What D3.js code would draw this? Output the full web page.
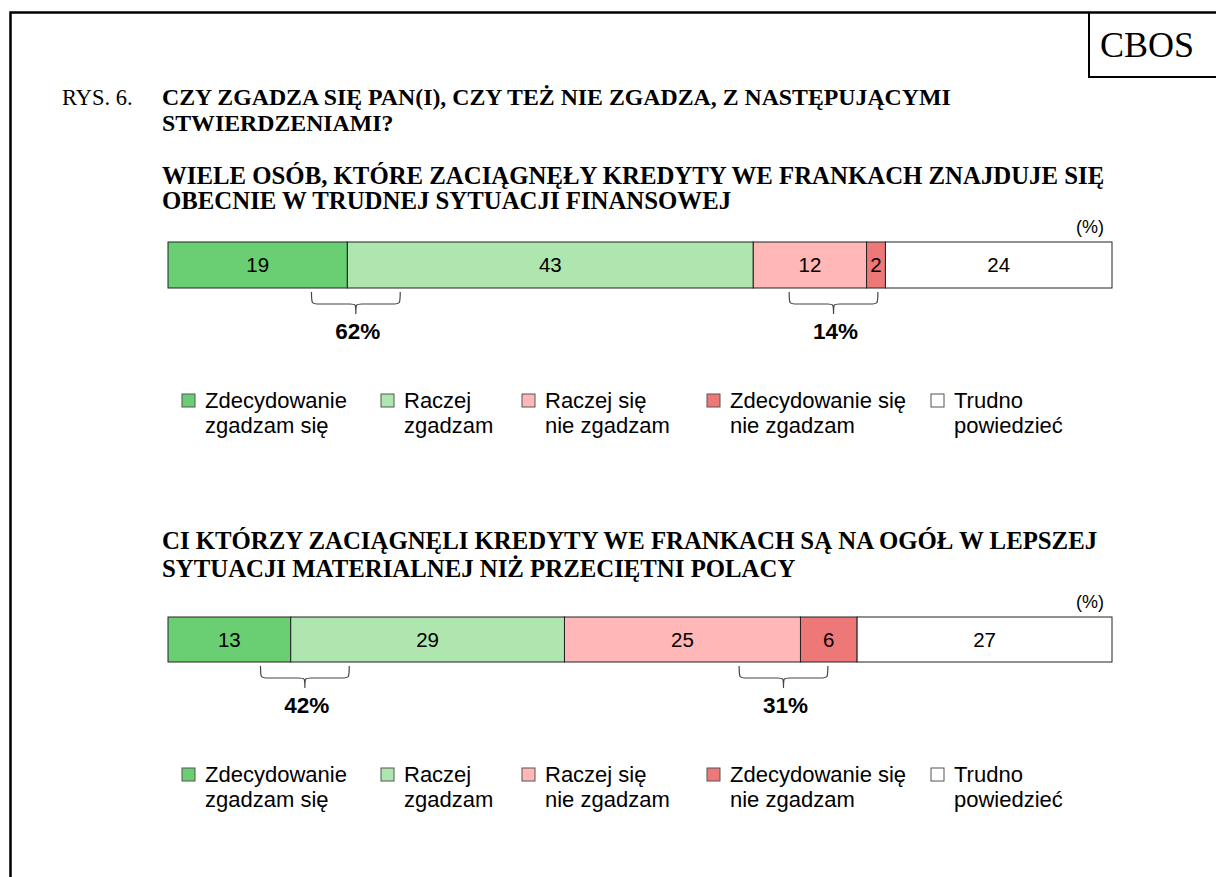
<!DOCTYPE html>
<html>
<head>
<meta charset="utf-8">
<script src="https://cdn.jsdelivr.net/npm/d3@7"></script>
<style>
  body { margin: 0; background: #fff; }
  svg { display: block; }
</style>
</head>
<body>
<div id="chart"></div>
<script>
// answer categories (legend order = stack order)
const categories = [
    ['Zdecydowanie', 'zgadzam się'],
    ['Raczej', 'zgadzam'],
    ['Raczej się', 'nie zgadzam'],
    ['Zdecydowanie się', 'nie zgadzam'],
    ['Trudno', 'powiedzieć']
];
const colors = ['#69cf72', '#afe6af', '#ffb7b7', '#ee7878', '#ffffff'];

// statements
const statements = [
    ['WIELE OSÓB, KTÓRE ZACIĄGNĘŁY KREDYTY WE FRANKACH ZNAJDUJE SIĘ', 'OBECNIE W TRUDNEJ SYTUACJI FINANSOWEJ'],
    ['CI KTÓRZY ZACIĄGNĘLI KREDYTY WE FRANKACH SĄ NA OGÓŁ W LEPSZEJ', 'SYTUACJI MATERIALNEJ NIŻ PRZECIĘTNI POLACY']
];

// values (%)
const values1 = [19, 43, 12, 2, 24];
const values2 = [13, 29, 25, 6, 27];

// summary labels under braces: [agree total, disagree total]
const totals1 = [62, 14];
const totals2 = [42, 31];
// brace centres on the percent axis
const braceAt1 = [19.9, 70.5];
const braceAt2 = [14.5, 65.2];

const W = 1216, H = 877;
const sans = '"Liberation Sans", Arial, sans-serif';
const serif = '"Liberation Serif", "Times New Roman", serif';

const svg = d3.select('#chart').append('svg')
    .attr('width', W)
    .attr('height', H);

// outer frame (runs off the right and bottom edge)
svg.append('path')
    .attr('d', `M10.5,${H + 5} V12.5 H${W + 5}`)
    .attr('fill', 'none')
    .attr('stroke', '#000')
    .attr('stroke-width', 2.5);

// CBOS box
svg.append('path')
    .attr('d', `M1089,12.5 V77 H${W + 5}`)
    .attr('fill', 'none')
    .attr('stroke', '#000')
    .attr('stroke-width', 2);
svg.append('text')
    .attr('x', 1147)
    .attr('y', 57)
    .attr('text-anchor', 'middle')
    .style('font-family', serif)
    .style('font-size', '36px')
    .text('CBOS');

// figure title
svg.append('text')
    .attr('x', 62)
    .attr('y', 105)
    .style('font-family', serif)
    .style('font-size', '22.5px')
    .text('RYS. 6.');

const title = svg.append('text')
    .style('font-family', serif)
    .style('font-size', '23.8px')
    .style('font-weight', 'bold');
['CZY ZGADZA SIĘ PAN(I), CZY TEŻ NIE ZGADZA, Z NASTĘPUJĄCYMI', 'STWIERDZENIAMI?']
    .forEach((t, i) => {
        title.append('tspan').attr('x', 162).attr('y', 105 + i * 26).text(t);
    });

const x = d3.scaleLinear()
    .domain([0, 100])
    .range([168, 1112]);

const panels = [
    { lines: statements[0], values: values1, totals: totals1, braces: braceAt1, subY: 184, subGap: 25, barY: 242, barH: 46, legY: 408 },
    { lines: statements[1], values: values2, totals: totals2, braces: braceAt2, subY: 549, subGap: 28, barY: 617, barH: 45, legY: 782 }
];

panels.forEach(p => {
    const g = svg.append('g');

    // statement
    const sub = g.append('text')
        .style('font-family', serif)
        .style('font-size', '24.8px')
        .style('font-weight', 'bold');
    p.lines.forEach((t, i) => {
        sub.append('tspan').attr('x', 162).attr('y', p.subY + i * p.subGap).text(t);
    });

    g.append('text')
        .attr('x', 1104)
        .attr('y', p.barY - 9)
        .attr('text-anchor', 'end')
        .style('font-family', sans)
        .style('font-size', '18px')
        .text('(%)');

    // stacked bar
    const stacked = d3.cumsum(p.values);
    const segs = p.values.map((v, i) => ({ v, i, x0: stacked[i] - v, x1: stacked[i] }));

    g.selectAll('rect.seg')
        .data(segs)
        .join('rect')
        .attr('class', 'seg')
        .attr('x', d => x(d.x0))
        .attr('y', p.barY)
        .attr('width', d => x(d.x1) - x(d.x0))
        .attr('height', p.barH)
        .attr('fill', d => colors[d.i])
        .attr('stroke', '#222')
        .attr('stroke-width', 1);

    g.selectAll('text.val')
        .data(segs)
        .join('text')
        .attr('class', 'val')
        .attr('x', d => (x(d.x0) + x(d.x1)) / 2)
        .attr('y', p.barY + p.barH / 2 + 7)
        .attr('text-anchor', 'middle')
        .style('font-family', sans)
        .style('font-size', '20.5px')
        .text(d => d.v);

    // braces + totals
    const half = 4.7;
    const y0 = p.barY + p.barH + 4;
    const ym = y0 + 12;
    const tip = y0 + 22;
    p.braces.forEach((c, i) => {
        const a = x(c - half), b = x(c + half), m = x(c);
        g.append('path')
            .attr('d', `M${a},${y0} C${a},${ym} ${a},${ym} ${a + 8},${ym} L${m - 6},${ym} C${m},${ym} ${m},${ym} ${m},${tip} ` +
                `C${m},${ym} ${m},${ym} ${m + 6},${ym} L${b - 8},${ym} C${b},${ym} ${b},${ym} ${b},${y0}`)
            .attr('fill', 'none')
            .attr('stroke', '#444')
            .attr('stroke-width', 1.2);
        g.append('text')
            .attr('x', m + 2)
            .attr('y', tip + 25)
            .attr('text-anchor', 'middle')
            .style('font-family', sans)
            .style('font-size', '22.5px')
            .style('font-weight', 'bold')
            .text(p.totals[i] + '%');
    });

    // legend
    const legX = [182, 381, 522, 707, 931];
    categories.forEach((c, i) => {
        g.append('rect')
            .attr('x', legX[i])
            .attr('y', p.legY - 14)
            .attr('width', 13)
            .attr('height', 13)
            .attr('fill', colors[i])
            .attr('stroke', '#555')
            .attr('stroke-width', 1);
        const t = g.append('text')
            .style('font-family', sans)
            .style('font-size', '22px');
        c.forEach((line, j) => {
            t.append('tspan')
                .attr('x', legX[i] + 23)
                .attr('y', p.legY + j * 25)
                .text(line);
        });
    });
});
</script>
</body>
</html>
